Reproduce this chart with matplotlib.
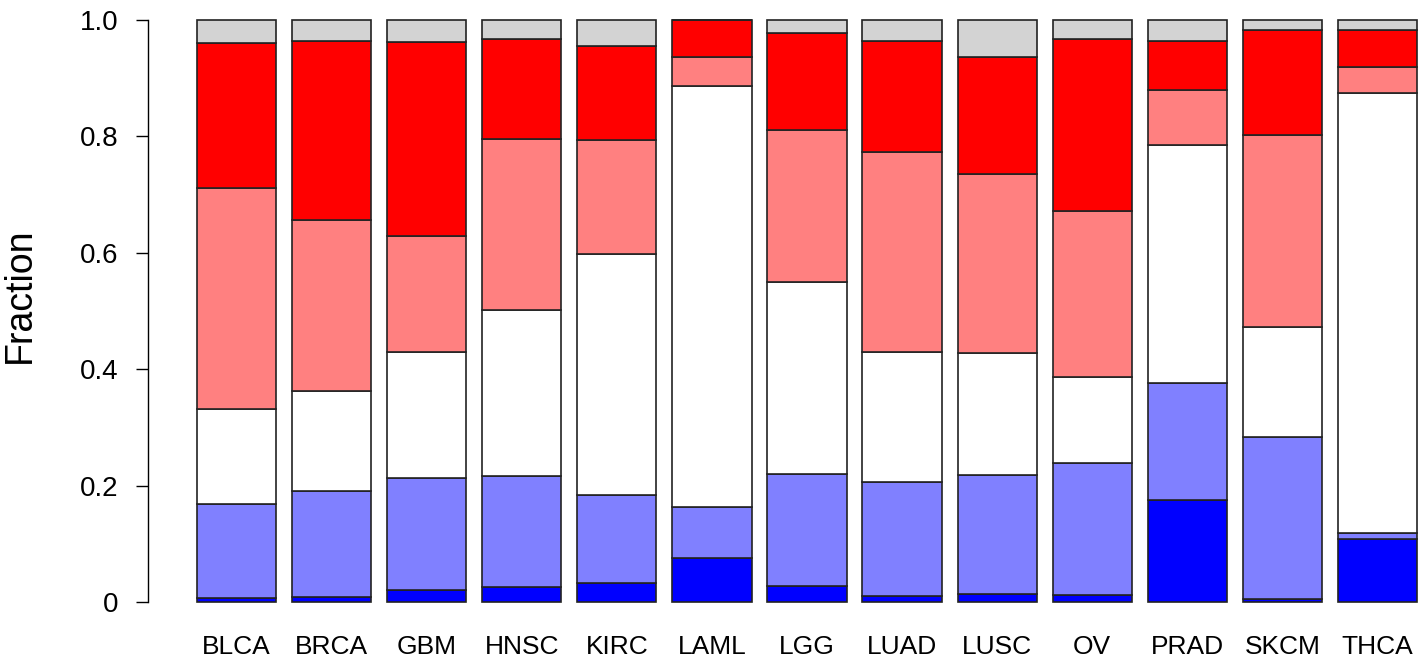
import matplotlib
matplotlib.use('Agg')
import matplotlib.pyplot as plt
import numpy as np

plt.rcParams['font.family'] = ['Liberation Sans', 'DejaVu Sans']

cancers = ['BLCA', 'BRCA', 'GBM', 'HNSC', 'KIRC', 'LAML', 'LGG',
           'LUAD', 'LUSC', 'OV', 'PRAD', 'SKCM', 'THCA']

# fractions per layer, bottom to top
blue = [0.007, 0.008, 0.020, 0.026, 0.033, 0.076, 0.027, 0.010, 0.014, 0.012, 0.176, 0.006, 0.108]
light_blue = [0.161, 0.183, 0.193, 0.191, 0.151, 0.088, 0.193, 0.196, 0.204, 0.226, 0.200, 0.277, 0.010]
white = [0.164, 0.172, 0.216, 0.284, 0.414, 0.723, 0.330, 0.224, 0.209, 0.149, 0.410, 0.189, 0.757]
light_red = [0.379, 0.294, 0.200, 0.294, 0.195, 0.050, 0.261, 0.344, 0.308, 0.285, 0.094, 0.331, 0.045]
red = [0.249, 0.307, 0.334, 0.172, 0.162, 0.063, 0.166, 0.190, 0.201, 0.295, 0.084, 0.179, 0.062]
grey = [0.040, 0.036, 0.037, 0.033, 0.045, 0.000, 0.023, 0.036, 0.064, 0.033, 0.036, 0.018, 0.018]

layers = [blue, light_blue, white, light_red, red, grey]
colors = ['#0000FF', '#8080FF', '#FFFFFF', '#FF8080', '#FF0000', '#D3D3D3']

fig = plt.figure(figsize=(14.28, 6.6), dpi=100)
# plot region like R barplot (4% padding), partly outside the saved image
ax = fig.add_axes([148 / 1428, 34.7 / 660, 1318 / 1428, 628.6 / 660])

x = np.arange(len(cancers)) * 1.2
bottom = np.zeros(len(cancers))
for vals, c in zip(layers, colors):
    vals = np.array(vals)
    ax.bar(x, vals, width=1.0, bottom=bottom, color=c,
           edgecolor='#222222', linewidth=1.2)
    bottom += vals

xmin, xmax = x[0] - 0.5, x[-1] + 0.5
pad = 0.04 * (xmax - xmin)
ax.set_xlim(xmin - pad, xmax + pad)
ax.set_ylim(-0.04, 1.04)

for s in ['top', 'right', 'bottom']:
    ax.spines[s].set_visible(False)
ax.spines['left'].set_bounds(0, 1)
ax.spines['left'].set_linewidth(1.0)

ax.set_yticks([0, 0.2, 0.4, 0.6, 0.8, 1.0])
ax.set_yticklabels(['0', '0.2', '0.4', '0.6', '0.8', '1.0'])
ax.set_xticks(x)
ax.set_xticklabels(cancers)
ax.tick_params(axis='y', length=9, width=1.0, pad=12, labelsize=20)
ax.tick_params(axis='x', length=0, pad=7, labelsize=19)

ax.set_ylabel('Fraction', fontsize=27)
ax.yaxis.set_label_coords(-0.0835, 0.525)

fig.savefig('out.png', dpi=100)
